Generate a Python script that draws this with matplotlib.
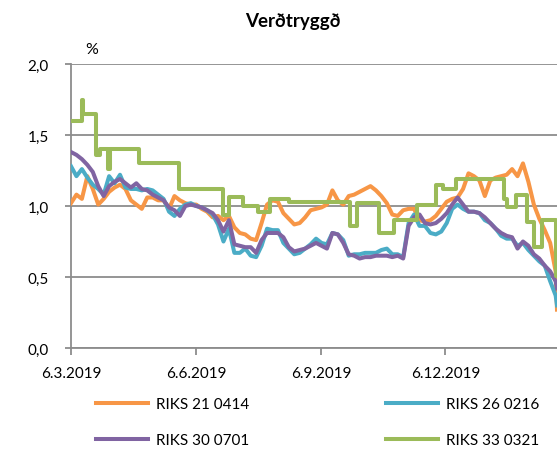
import matplotlib
matplotlib.use("Agg")
import matplotlib.pyplot as plt
import matplotlib.dates as mdates
import matplotlib.ticker as mticker
import pandas as pd

# Observation dates for the three traded series (every 4 days) plus the last day
dates = list(pd.date_range("2019-03-06", periods=90, freq="4D")) + [pd.Timestamp("2020-02-26")]

riks21 = [1.02, 1.08, 1.05, 1.21, 1.12, 1.01, 1.05, 1.10, 1.13, 1.15,
          1.12, 1.04, 1.01, 0.98, 1.06, 1.06, 1.04, 1.04, 0.98, 1.07,
          1.04, 1.02, 1.01, 1.01, 0.98, 0.96, 0.92, 0.93, 0.90, 0.93,
          0.85, 0.81, 0.80, 0.77, 0.76, 0.88, 1.01, 1.04, 1.03, 0.95,
          0.91, 0.87, 0.88, 0.92, 0.97, 0.98, 0.99, 1.01, 1.11, 1.04,
          1.01, 1.07, 1.08, 1.10, 1.12, 1.14, 1.11, 1.07, 1.02, 0.94,
          0.93, 0.97, 0.98, 0.98, 0.90, 0.89, 0.90, 0.93, 0.98, 1.03,
          1.05, 1.06, 1.12, 1.23, 1.21, 1.18, 1.07, 1.18, 1.20, 1.21,
          1.22, 1.26, 1.21, 1.30, 1.17, 1.01, 0.91, 0.83, 0.74, 0.54,
          0.27]

riks26 = [1.28, 1.21, 1.26, 1.20, 1.15, 1.12, 1.08, 1.21, 1.16, 1.22,
          1.13, 1.12, 1.12, 1.11, 1.12, 1.11, 1.08, 1.05, 0.96, 0.93,
          0.98, 1.01, 1.02, 1.00, 0.99, 0.97, 0.94, 0.87, 0.75, 0.84,
          0.67, 0.67, 0.70, 0.65, 0.64, 0.72, 0.84, 0.83, 0.83, 0.74,
          0.70, 0.66, 0.67, 0.70, 0.73, 0.77, 0.74, 0.73, 0.81, 0.80,
          0.76, 0.65, 0.66, 0.66, 0.67, 0.67, 0.67, 0.69, 0.70, 0.66,
          0.66, 0.64, 0.88, 0.94, 0.86, 0.86, 0.81, 0.80, 0.82, 0.88,
          0.98, 1.01, 0.98, 0.96, 0.96, 0.95, 0.90, 0.88, 0.84, 0.79,
          0.77, 0.77, 0.72, 0.74, 0.69, 0.65, 0.61, 0.58, 0.47, 0.37,
          0.30]

riks30 = [1.38, 1.36, 1.33, 1.29, 1.24, 1.14, 1.07, 1.14, 1.17, 1.19,
          1.16, 1.13, 1.16, 1.12, 1.11, 1.08, 1.06, 1.04, 0.99, 0.97,
          0.93, 1.00, 1.01, 1.00, 0.99, 0.97, 0.95, 0.90, 0.82, 0.90,
          0.73, 0.72, 0.71, 0.71, 0.67, 0.76, 0.81, 0.81, 0.81, 0.78,
          0.71, 0.68, 0.69, 0.70, 0.72, 0.74, 0.72, 0.70, 0.81, 0.80,
          0.74, 0.66, 0.65, 0.63, 0.64, 0.64, 0.65, 0.65, 0.65, 0.64,
          0.65, 0.63, 0.86, 0.92, 0.94, 0.88, 0.87, 0.88, 0.91, 0.95,
          1.01, 1.06, 1.01, 0.96, 0.96, 0.95, 0.92, 0.88, 0.84, 0.81,
          0.79, 0.78, 0.70, 0.75, 0.72, 0.66, 0.63, 0.58, 0.54, 0.47,
          0.42]

# RIKS 33 0321 is quoted rarely, so it is kept as change dates and levels
riks33_dates = ["2019-03-06", "2019-03-14", "2019-03-15", "2019-03-24", "2019-03-27",
                "2019-04-02", "2019-04-04", "2019-04-25", "2019-05-24", "2019-06-26",
                "2019-06-30", "2019-07-10", "2019-07-21", "2019-07-30", "2019-08-13",
                "2019-09-27", "2019-10-02", "2019-10-18", "2019-10-29", "2019-11-15",
                "2019-11-29", "2019-12-04", "2019-12-14", "2020-01-18", "2020-01-20",
                "2020-01-27", "2020-02-04", "2020-02-09", "2020-02-15", "2020-02-25",
                "2020-02-26"]
riks33 = [1.60, 1.75, 1.65, 1.36, 1.40,
          1.26, 1.40, 1.30, 1.12, 0.94,
          1.06, 1.00, 0.96, 1.05, 1.03,
          0.86, 1.02, 0.81, 0.90, 1.01,
          1.15, 1.12, 1.19, 1.05, 0.99,
          1.08, 0.89, 0.71, 0.90, 0.51,
          0.51]

labels = ["RIKS 21 0414", "RIKS 26 0216", "RIKS 30 0701", "RIKS 33 0321"]
colors = ["#F79646", "#4BACC6", "#8064A2", "#9BBB59"]

yticks = [0.0, 0.5, 1.0, 1.5, 2.0]
xticks = ["2019-03-06", "2019-06-06", "2019-09-06", "2019-12-06"]

plt.rcParams["font.family"] = ["Lato", "DejaVu Sans"]
grey = "#8c8c8c"

fig = plt.figure(figsize=(5.57, 4.52), dpi=100)
ax = fig.add_axes([71 / 557, 1 - 349 / 452, 1 - 71 / 557, (349 - 65) / 452])

lw = 2.9
h_or, = ax.plot(dates, riks21, color=colors[0], lw=lw, label=labels[0], zorder=3)
h_bl, = ax.plot(dates, riks26, color=colors[1], lw=lw, label=labels[1], zorder=4)
h_pu, = ax.plot(dates, riks30, color=colors[2], lw=lw, label=labels[2], zorder=5)
h_gr, = ax.plot(pd.to_datetime(riks33_dates), riks33, color=colors[3], lw=lw,
                drawstyle="steps-post", label=labels[3], zorder=6)

ax.set_ylim(0, 2.0)
ax.set_xlim(pd.Timestamp("2019-03-06"), pd.Timestamp("2020-02-26"))
ax.set_yticks(yticks)
ax.yaxis.set_major_formatter(mticker.FuncFormatter(lambda v, p: f"{v:.1f}".replace(".", ",")))
ax.set_xticks(pd.to_datetime(xticks))
ax.xaxis.set_major_formatter(mticker.FuncFormatter(
    lambda v, p: (lambda d: f"{d.day}.{d.month}.{d.year}")(mdates.num2date(v))))

ax.grid(axis="y", color=grey, lw=1.3, zorder=1)
for s in ["top", "right"]:
    ax.spines[s].set_visible(False)
for s in ["left", "bottom"]:
    ax.spines[s].set_color(grey)
    ax.spines[s].set_linewidth(1.3)
ax.tick_params(axis="y", length=4, width=1.3, color=grey, pad=12, labelsize=11)
ax.tick_params(axis="x", length=5, width=1.3, color=grey, pad=8, labelsize=11)

fig.text(293 / 557, 1 - 22 / 452, "Verðtryggð", ha="center", va="center",
         fontsize=13.5, fontweight="bold")
fig.text(92 / 557, 1 - 50 / 452, "%", ha="center", va="center", fontsize=11.5)

fig.legend([h_or, h_pu, h_bl, h_gr],
           [labels[0], labels[2], labels[1], labels[3]],
           ncol=2, loc="upper left", bbox_to_anchor=(96 / 557, 1 - 398 / 452),
           frameon=False, fontsize=11, handlelength=3.4, handletextpad=0.5,
           columnspacing=9.0, labelspacing=1.45, borderaxespad=0, borderpad=0)

fig.savefig("out.png", dpi=100)
